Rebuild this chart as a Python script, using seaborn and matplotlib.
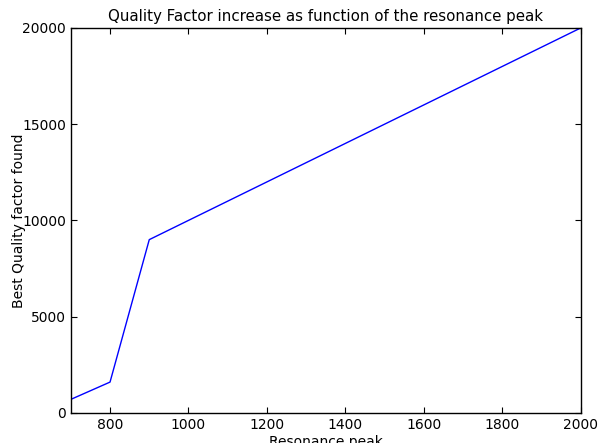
import matplotlib
matplotlib.use("Agg")
import matplotlib.pyplot as plt
import seaborn as sns
import pandas as pd

resonance_peak = [700, 800, 900, 2000]
quality_factor = [700, 1600, 9000, 20000]

sns.set_style("ticks")
plt.rcParams['font.family'] = ['DejaVu Sans']
plt.rcParams['text.color'] = 'black'
plt.rcParams['axes.labelcolor'] = 'black'

df = pd.DataFrame({"x": resonance_peak, "y": quality_factor})

fig = plt.figure(figsize=(6.0, 4.43), dpi=100)
ax = fig.add_axes([0.118, 0.068, 0.85, 0.869])
sns.lineplot(data=df, x="x", y="y", ax=ax, color=(0, 0, 1), linewidth=1.0)
ax.set_xlim(700, 2000)
ax.set_ylim(0, 20000)
ax.set_xticks([800, 1000, 1200, 1400, 1600, 1800, 2000])
ax.set_yticks([0, 5000, 10000, 15000, 20000])
ax.tick_params(direction="in", top=True, right=True, length=4, width=0.8,
               labelsize=10, color="black", labelcolor="black")
for s in ax.spines.values():
    s.set_visible(True)
    s.set_color("black")
    s.set_linewidth(1.0)
ax.set_xlabel("Resonance peak", fontsize=10, labelpad=2, color="black")
ax.set_ylabel("Best Quality factor found", fontsize=10, labelpad=-3, color="black")
ax.set_title("Quality Factor increase as function of the resonance peak",
             fontsize=10.8, pad=5, color="black")
fig.savefig("out.png", dpi=100)
